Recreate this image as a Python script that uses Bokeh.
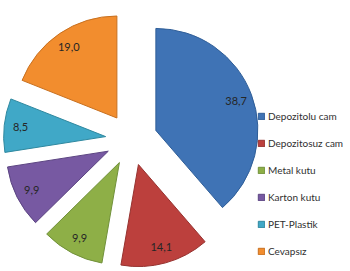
import math
from bokeh.plotting import figure
from bokeh.models import Range1d, ColumnDataSource, Legend, LegendItem
from bokeh.embed import file_html
from bokeh.resources import INLINE

categories = ["Depozitolu cam", "Depozitosuz cam", "Metal kutu", "Karton kutu", "PET-Plastik", "Cevapsız"]
values = [38.7, 14.1, 9.9, 9.9, 8.5, 19.0]
colors = ["#3F73B5", "#BC403D", "#8EAF47", "#7759A2", "#40A8C7", "#F28D2E"]
edge_colors = ["#2F5E98", "#963330", "#71913A", "#5C4582", "#2F889F", "#C8701F"]

# geometry (data units = pixels, y upward)
CX, CY = 131.0, 132.0
EXPLODE = 26.0
R = 102.0
LABEL_POS = 0.84

total = sum(values)
starts, ends, xs, ys, lx, ly, texts = [], [], [], [], [], [], []
cum = 0.0
for v in values:
    a0 = math.pi / 2 - 2 * math.pi * cum / total
    cum += v
    a1 = math.pi / 2 - 2 * math.pi * cum / total
    mid = (a0 + a1) / 2
    x = CX + EXPLODE * math.cos(mid)
    y = CY + EXPLODE * math.sin(mid)
    starts.append(a0)
    ends.append(a1)
    xs.append(x)
    ys.append(y)
    lx.append(x + LABEL_POS * R * math.cos(mid))
    ly.append(y + LABEL_POS * R * math.sin(mid))
    texts.append(f"{v:.1f}".replace(".", ","))

src = ColumnDataSource(dict(x=xs, y=ys, start=starts, end=ends, color=colors,
                            edge=edge_colors, name=categories))
lsrc = ColumnDataSource(dict(x=lx, y=ly, text=texts))

W, H = 350, 271
p = figure(width=W, height=H, output_backend="svg", toolbar_location=None,
           x_range=Range1d(0, W), y_range=Range1d(0, H),
           min_border=0, min_border_left=0, min_border_right=0,
           min_border_top=0, min_border_bottom=0)
p.axis.visible = False
p.grid.visible = False
p.outline_line_color = None
p.background_fill_color = "white"

wr = p.wedge(x="x", y="y", radius=R, start_angle="start", end_angle="end",
             direction="clock", fill_color="color", line_color="edge",
             line_width=1, source=src)

p.text(x="x", y="y", text="text", source=lsrc, text_align="center",
       text_baseline="middle", text_font_size="11px", text_color="#262626",
       text_font={"value": "Lato"})

items = [LegendItem(label=c, renderers=[wr], index=i) for i, c in enumerate(categories)]
legend = Legend(items=items, location=(257, 13), orientation="vertical",
                glyph_width=8, glyph_height=8, label_height=14, spacing=13,
                label_standoff=3, padding=0, margin=0,
                label_text_font="Lato", label_text_font_size="10px",
                label_text_color="#303030",
                border_line_color=None, background_fill_alpha=0)
p.add_layout(legend, "center")

open("out.html", "w").write(file_html(p, INLINE))
